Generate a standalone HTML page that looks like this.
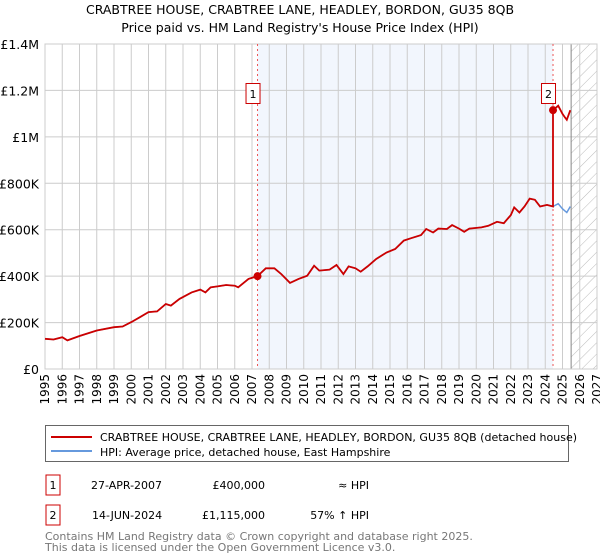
<!DOCTYPE html>
<html><head><meta charset="utf-8"><style>
body{margin:0;background:#fff;font-family:"Liberation Sans","DejaVu Sans",sans-serif;}
svg{display:block}
</style></head><body>
<svg id="chart" width="600" height="560" viewBox="0 0 600 560" xmlns="http://www.w3.org/2000/svg" font-family="DejaVu Sans, Liberation Sans, sans-serif">
<defs>
<pattern id="hatch" patternUnits="userSpaceOnUse" width="8" height="8" patternTransform="rotate(45)">
<line x1="0" y1="0" x2="0" y2="8" stroke="#bbb" stroke-width="1"/>
</pattern>
</defs>
<text x="300" y="14" text-anchor="middle" font-size="12.5" fill="#000">CRABTREE HOUSE, CRABTREE LANE, HEADLEY, BORDON, GU35 8QB</text>
<text x="300" y="32" text-anchor="middle" font-size="12.5" fill="#000">Price paid vs. HM Land Registry's House Price Index (HPI)</text>
<g id="plot"></g>
<g>
<rect x="45.5" y="425.5" width="523" height="36" fill="#fff" stroke="#666"/>
<line x1="51" y1="437" x2="92" y2="437" stroke="#cc0000" stroke-width="2"/>
<text x="100" y="441" font-size="11">CRABTREE HOUSE, CRABTREE LANE, HEADLEY, BORDON, GU35 8QB (detached house)</text>
<line x1="51" y1="451" x2="92" y2="451" stroke="#6699dd" stroke-width="2"/>
<text x="100" y="456" font-size="11">HPI: Average price, detached house, East Hampshire</text>
</g>
<g font-size="11">
<rect x="46" y="475" width="14" height="20" fill="#fff" stroke="#cc0000"/>
<text x="53" y="489" text-anchor="middle">1</text>
<text x="91" y="489">27-APR-2007</text>
<text x="265" y="489" text-anchor="end">£400,000</text>
<text x="369" y="489" text-anchor="end">≈ HPI</text>
<rect x="46" y="505" width="14" height="20" fill="#fff" stroke="#cc0000"/>
<text x="53" y="519" text-anchor="middle">2</text>
<text x="92" y="519">14-JUN-2024</text>
<text x="265" y="519" text-anchor="end">£1,115,000</text>
<text x="369" y="519" text-anchor="end">57% ↑ HPI</text>
</g>
<text x="45" y="540" font-size="11" fill="#777">Contains HM Land Registry data © Crown copyright and database right 2025.</text>
<text x="45" y="551" font-size="11" fill="#777">This data is licensed under the Open Government Licence v3.0.</text>
</svg>
<script>
const hpiYears = [1995.0,1995.5,1996.0,1996.3,1997.0,1998.0,1999.0,1999.5,2000.0,2000.5,2001.0,2001.5,2002.0,2002.3,2002.8,2003.5,2004.0,2004.3,2004.6,2005.0,2005.5,2006.0,2006.2,2006.8,2007.32,2007.8,2008.3,2008.7,2009.2,2009.7,2010.2,2010.6,2010.9,2011.5,2011.9,2012.3,2012.6,2013.0,2013.3,2013.7,2014.2,2014.8,2015.3,2015.8,2016.2,2016.8,2017.1,2017.5,2017.8,2018.3,2018.6,2019.0,2019.3,2019.6,2020.3,2020.7,2021.2,2021.6,2022.0,2022.2,2022.5,2022.8,2023.1,2023.4,2023.7,2024.1,2024.45,2024.75,2025.0,2025.15,2025.25,2025.45];
const hpiValues = [130,127,137,123,142,166,180,183,202,223,245,248,280,273,302,330,342,330,352,356,362,359,352,388,400,434,434,409,371,388,402,445,424,428,448,409,442,434,419,442,474,502,517,553,563,577,603,588,605,603,620,605,591,605,610,617,634,628,663,696,674,700,734,729,700,707,700,712,690,680,674,700];
const saleYears = [2007.32, 2024.45];
const salePrices = [400, 1115];
const saleLabels = ["1","2"];
const yTicks = [0,200,400,600,800,1000,1200,1400];
const yTickLabels = ["£0","£200K","£400K","£600K","£800K","£1M","£1.2M","£1.4M"];
const xTickYears = [1995,1996,1997,1998,1999,2000,2001,2002,2003,2004,2005,2006,2007,2008,2009,2010,2011,2012,2013,2014,2015,2016,2017,2018,2019,2020,2021,2022,2023,2024,2025,2026,2027];
const forecastStart = 2025.5;

const L=45,R=597,T=44,B=369;
const xs=y=>L+(y-1995)/(2027-1995)*(R-L);
const ys=v=>B-v/1400*(B-T);
const NS="http://www.w3.org/2000/svg";
const g=document.getElementById('plot');
function mk(tag,attrs){const e=document.createElementNS(NS,tag);for(const k in attrs)e.setAttribute(k,attrs[k]);g.appendChild(e);return e;}

let sh=mk('rect',{x:xs(saleYears[0]),y:T,width:xs(saleYears[1])-xs(saleYears[0]),height:B-T,fill:'#f2f6fd'});


let ht=mk('rect',{x:xs(forecastStart),y:T,width:R-xs(forecastStart),height:B-T,fill:'url(#hatch)'});


xTickYears.forEach((yr,i)=>{
  const l=mk('line',{x1:xs(yr),x2:xs(yr),y1:T,y2:B,stroke:'#cccccc','stroke-width':1});
  
  
  const x=xs(yr)+4;
  const t=mk('text',{x:x,y:374,'font-size':12,'text-anchor':'end',transform:`rotate(-90 ${x} 374)`});
  t.textContent=yr;
  
  
});
yTicks.forEach((v,i)=>{
  const l=mk('line',{x1:L,x2:R,y1:ys(v),y2:ys(v),stroke:'#cccccc','stroke-width':1});
  
  
  const t=mk('text',{x:39,y:ys(v)+5,'font-size':12.5,'text-anchor':'end'});
  t.textContent=yTickLabels[i];
  
  
});
let fl=mk('line',{x1:xs(forecastStart),x2:xs(forecastStart),y1:T,y2:B,stroke:'#888','stroke-width':1});


let bd=mk('rect',{x:L,y:T,width:R-L,height:B-T,fill:'none',stroke:'#cccccc'});


saleYears.forEach((yr,i)=>{
  const l=mk('line',{x1:xs(yr),x2:xs(yr),y1:T,y2:B,stroke:'#ee5555','stroke-width':1,'stroke-dasharray':'2,3'});
  
  
});
const hpiInterp=yr=>{for(let i=1;i<hpiYears.length;i++){if(yr<=hpiYears[i]){const f=(yr-hpiYears[i-1])/(hpiYears[i]-hpiYears[i-1]);return hpiValues[i-1]+f*(hpiValues[i]-hpiValues[i-1]);}}return hpiValues[hpiValues.length-1];};
const hp=mk('path',{d:hpiYears.map((y,i)=>(i?'L':'M')+xs(y).toFixed(1)+','+ys(hpiValues[i]).toFixed(1)).join(''),fill:'none',stroke:'#6699dd','stroke-width':1.5});


let d='';
hpiYears.forEach((y,i)=>{
  let k=0;
  for(let s=0;s<saleYears.length;s++) if(y>=saleYears[s]) k=s;
  const f=salePrices[k]/hpiInterp(saleYears[k]);
  let v=hpiValues[i]*f;
  if(i>0 && k>0 && hpiYears[i-1]<saleYears[k]){
    const f0=salePrices[k-1]/hpiInterp(saleYears[k-1]);
    d+='L'+xs(saleYears[k]).toFixed(1)+','+ys(hpiInterp(saleYears[k])*f0).toFixed(1);
    d+='L'+xs(saleYears[k]).toFixed(1)+','+ys(salePrices[k]).toFixed(1);
  }
  d+=(i?'L':'M')+xs(y).toFixed(1)+','+ys(v).toFixed(1);
});
const pp=mk('path',{d:d,fill:'none',stroke:'#cc0000','stroke-width':1.8});


saleYears.forEach((yr,i)=>{
  const c=mk('circle',{cx:xs(yr),cy:ys(salePrices[i]),r:4,fill:'#cc0000'});
  
  
  const bx=xs(yr)-11;
  const r=mk('rect',{x:bx-0.5,y:83.5,width:14,height:20,fill:'#fff',stroke:'#cc0000'});
  
  
  const t=mk('text',{x:bx+6.5,y:98,'font-size':11,'text-anchor':'middle'});
  t.textContent=saleLabels[i];
  
  
});
</script>
</body></html>
